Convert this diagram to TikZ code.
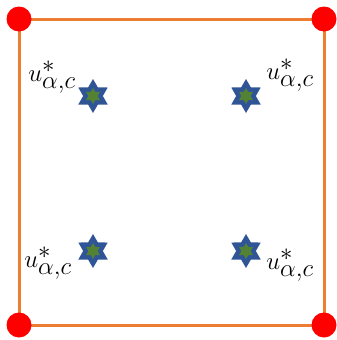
\documentclass[tikz,border=0pt]{standalone}
\usepackage{amsmath,amssymb}
\usepackage{xcolor}
\usetikzlibrary{shapes.geometric, positioning, backgrounds}
\definecolor{edgeorange}{HTML}{ED7D31}
\definecolor{starblue}{HTML}{2F5597}
\definecolor{stargreen}{HTML}{548235}
\tikzset{
  vertex/.style={circle, fill=red, inner sep=0pt, minimum size=25pt},
  edge/.style={draw=edgeorange, line width=3pt},
  outerstar/.style={star, star points=6, star point ratio=1.73, fill=starblue,
    inner sep=0pt, minimum size=34pt},
  innerstar/.style={star, star points=6, star point ratio=1.73, fill=stargreen,
    inner sep=0pt, minimum size=16pt},
  ulabel/.style={inner sep=0pt, font=\fontsize{34}{38}\selectfont}
}
\newcommand{\ustar}{$u^{*}_{\alpha,c}$}

\begin{document}
\begin{tikzpicture}[x=1pt, y=-1pt]
  \useasboundingbox (0,0) rectangle (337,340);
  \node[vertex] (tl) at (19,19) {};
  \node[vertex] (tr) at (324,19) {};
  \node[vertex] (bl) at (19,325) {};
  \node[vertex] (br) at (324,325) {};
  \begin{scope}[on background layer]
    \draw[edge] (tl.center) -- (tr.center) -- (br.center) -- (bl.center) -- cycle;
  \end{scope}

  % stars
  \node[outerstar] (s1) at (93,96) {};
  \node[outerstar] (s2) at (246,96) {};
  \node[outerstar] (s3) at (93,251) {};
  \node[outerstar] (s4) at (246,251) {};
  \foreach \s in {s1,s2,s3,s4}
    \node[innerstar] at (\s) {};

  % labels
  \node[ulabel] (l1) at (52,77) {\ustar};
  \node[ulabel] (l2) at (290,75) {\ustar};
  \node[ulabel] (l3) at (48,263) {\ustar};
  \node[ulabel] (l4) at (290,265) {\ustar};
\end{tikzpicture}
\end{document}
